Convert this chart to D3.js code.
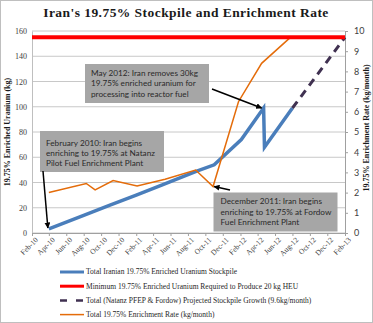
<!DOCTYPE html>
<html><head><meta charset="utf-8">
<script src="https://cdn.jsdelivr.net/npm/d3@7"></script>
<style>
body{margin:0;background:#fff;}
svg{display:block;}
</style></head>
<body><svg id="c" width="373" height="323"></svg>
<script>
// ---- data ----
const titleText = "Iran's 19.75% Stockpile and Enrichment Rate";
const leftTicks = [0,20,40,60,80,100,120,140,160];
const rightTicks = [0,1,2,3,4,5,6,7,8,9,10];
const stockDates = ["2010-04-01","2010-08-01","2010-11-01","2011-02-01","2011-05-01","2011-09-01","2011-11-01","2012-02-04","2012-04-22","2012-04-25","2012-08-01"];
const stockValues = [3.2,14,22,30,38,49,54,74,99,68,99];
const minDates = ["2010-02-01","2013-02-01"];
const minValues = [155,155];
const projDates = ["2012-08-01","2013-02-01"];
const projValues = [99,155];
const rateDates = ["2010-04-01","2010-08-10","2010-09-10","2010-11-12","2011-02-04","2011-05-13","2011-08-28","2011-10-28","2012-01-25","2012-04-15","2012-07-22"];
const rateValues = [2.0,2.45,2.13,2.6,2.33,2.66,3.12,2.3,6.5,8.4,9.65];
const legendLabels = [
 "Total Iranian 19.75% Enriched Uranium Stockpile",
 "Minimum 19.75% Enriched Uranium Required to Produce 20 kg HEU",
 "Total (Natanz PFEP & Fordow)  Projected Stockpile Growth  (9.6kg/month)",
 "Total 19.75% Enrichment Rate (kg/month)"];
const notes = [
 {lines:["May 2012: Iran removes 30kg","19.75%  enriched uranium for","processing into reactor fuel"]},
 {lines:["February 2010: Iran begins","enriching to 19.75% at Natanz","Pilot Fuel Enrichment Plant"]},
 {lines:["December 2011: Iran begins","enriching to 19.75% at Fordow","Fuel Enrichment Plant"]}];

const parse = d3.timeParse("%Y-%m-%d");
const svg = d3.select("#c");
const L=32, R=345, T=31, B=233;
const x = d3.scaleTime().domain([parse("2010-02-01"),parse("2013-02-01")]).range([L,R]);
const y = d3.scaleLinear().domain([0,160]).range([B,T]);
const y2 = d3.scaleLinear().domain([0,10]).range([B,T]);
const serif = "'Liberation Serif','Times New Roman',serif";
const sans = "Lato,'Open Sans',sans-serif";

// border
svg.append("rect").attr("x",0.5).attr("y",0.5).attr("width",372).attr("height",322)
  .attr("fill","#fff").attr("stroke","#bfbfbf");

// title
svg.append("text").attr("x",186).attr("y",16.5).attr("text-anchor","middle")
  .attr("font-family",serif).attr("font-weight","bold").attr("font-size",13.5)
  .attr("letter-spacing",0.45)
  .attr("fill","#1a1a1a").text(titleText);

// gridlines
svg.append("g").selectAll("line").data(leftTicks).join("line")
  .attr("x1",L).attr("x2",R).attr("y1",d=>y(d)).attr("y2",d=>y(d))
  .attr("stroke","#c8c8c8").attr("stroke-width",1);

// left axis
const gl = svg.append("g").attr("transform",`translate(${L},0)`)
  .call(d3.axisLeft(y).tickValues(leftTicks).tickSize(0).tickPadding(5));
gl.select(".domain").attr("stroke","#bfbfbf");
gl.selectAll("text").attr("font-family",serif).attr("font-size",8).attr("fill","#404040");

// right axis
const gr = svg.append("g").attr("transform",`translate(${R},0)`)
  .call(d3.axisRight(y2).tickValues(rightTicks).tickSize(3).tickPadding(6));
gr.select(".domain").attr("stroke","#a0a0a0");
gr.selectAll("line").attr("stroke","#a0a0a0");
gr.selectAll("text").attr("font-family",sans).attr("font-size",9).attr("fill","#404040");

// bottom axis
const xTickDates = d3.timeMonth.range(parse("2010-02-01"),parse("2013-02-02"),2);
const gb = svg.append("g").attr("transform",`translate(0,${B})`)
  .call(d3.axisBottom(x).tickValues(xTickDates)
  .tickFormat(d3.timeFormat("%b-%y")).tickSize(3).tickSizeOuter(0));
gb.select(".domain").attr("stroke","#a0a0a0");
gb.selectAll("line").attr("stroke","#a0a0a0");
gb.selectAll("text").attr("font-family",serif).attr("font-size",7.5).attr("fill","#404040")
  .attr("text-anchor","end").attr("transform","translate(2,2) rotate(-45)").attr("dy","0.35em").attr("y",4).attr("x",-1);

// axis titles
svg.append("text").attr("transform","translate(10,132) rotate(-90)").attr("text-anchor","middle")
  .attr("font-family",serif).attr("font-weight","bold").attr("font-size",8).attr("fill","#1a1a1a")
  .text("19.75% Enriched Uranium (kg)");
svg.append("text").attr("transform","translate(369,128) rotate(-90)").attr("text-anchor","middle")
  .attr("font-family",serif).attr("font-weight","bold").attr("font-size",8).attr("fill","#1a1a1a")
  .text("19.75% Enrichment Rate (kg/month)");

const zip = (ds,vs)=>ds.map((d,i)=>({d:parse(d),v:vs[i]}));
const line1 = d3.line().x(p=>x(p.d)).y(p=>y(p.v));
const line2 = d3.line().x(p=>x(p.d)).y(p=>y2(p.v));

svg.append("path").datum(zip(stockDates,stockValues)).attr("d",line1)
  .attr("fill","none").attr("stroke","#4a7ebb").attr("stroke-width",3.5).attr("stroke-linejoin","miter");
svg.append("path").datum(zip(projDates,projValues)).attr("d",line1)
  .attr("fill","none").attr("stroke","#403151").attr("stroke-width",3).attr("stroke-dasharray","8,6");
svg.append("path").datum(zip(rateDates,rateValues)).attr("d",line2)
  .attr("fill","none").attr("stroke","#e46c0a").attr("stroke-width",1.5);
svg.append("path").datum(zip(minDates,minValues)).attr("d",line1)
  .attr("fill","none").attr("stroke","#ff0000").attr("stroke-width",4);

// annotations
const defs = svg.append("defs");
defs.append("marker").attr("id","ah").attr("viewBox","0 0 10 10").attr("refX",9).attr("refY",5)
  .attr("markerWidth",4).attr("markerHeight",4).attr("orient","auto")
  .append("path").attr("d","M0,0L10,5L0,10z").attr("fill","#000");

const boxes = [
 {x:85,y:64,w:124,h:39,tx:91,ty:76},
 {x:40,y:131,w:124,h:41,tx:46,ty:145.5},
 {x:213.5,y:192.5,w:124,h:39,tx:220.5,ty:204.3}];
notes.forEach((n,i)=>{
  const b = boxes[i];
  svg.append("rect").attr("x",b.x).attr("y",b.y).attr("width",b.w).attr("height",b.h).attr("fill","#a6a6a6");
  n.lines.forEach((t,j)=>svg.append("text").attr("x",b.tx).attr("y",b.ty+j*10.4)
    .attr("font-family",sans).attr("font-size",8.2).attr("fill","#2a2a2a").text(t));
});
const arrows = [
 {x1:212,y1:89,d:stockDates[8],v:stockValues[8],ax:-2,ay:0},
 {x1:43,y1:171,d:stockDates[0],v:stockValues[0],ax:-1,ay:-1},
 {x1:230,y1:190,d:rateDates[7],v:rateValues[7],ax:1,ay:0,sec:true}];
arrows.forEach(a=>{
  svg.append("line").attr("x1",a.x1).attr("y1",a.y1)
    .attr("x2",x(parse(a.d))+a.ax).attr("y2",(a.sec?y2(a.v):y(a.v))+a.ay)
    .attr("stroke","#000").attr("stroke-width",1.5).attr("marker-end","url(#ah)");
});

// legend
const lg = svg.append("g");
legendLabels.forEach((t,i)=>{
  const yy = 272 + i*14.2;
  const styles = [
    {c:"#4a7ebb",w:3,da:null},{c:"#ff0000",w:3,da:null},{c:"#403151",w:2.5,da:"7,9"},{c:"#e46c0a",w:1.5,da:null}][i];
  lg.append("line").attr("x1",60).attr("x2",84).attr("y1",yy).attr("y2",yy)
    .attr("stroke",styles.c).attr("stroke-width",styles.w).attr("stroke-dasharray",styles.da);
  lg.append("text").attr("x",86).attr("y",yy).attr("dy","0.33em")
    .attr("font-family",serif).attr("font-size",7.5).attr("fill","#262626").text(t);
});
</script></body></html>
